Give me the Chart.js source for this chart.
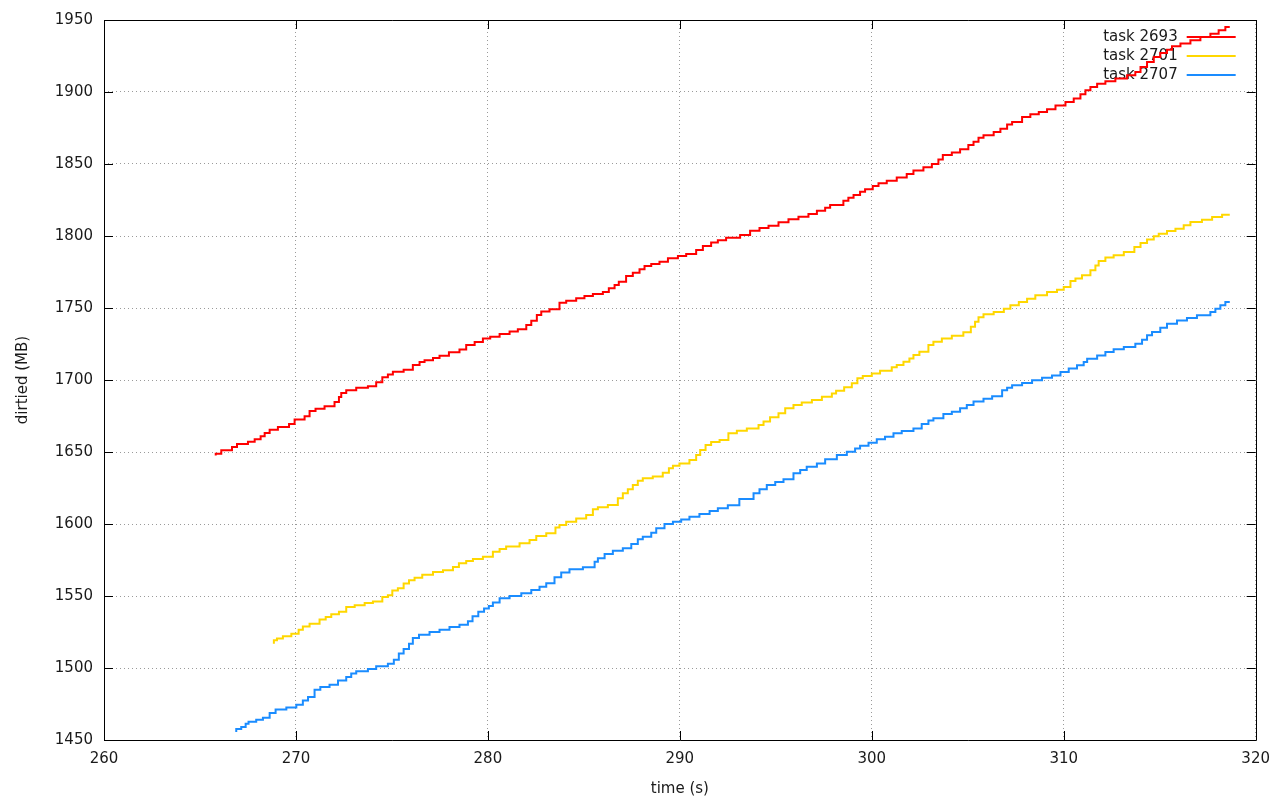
<!DOCTYPE html>
<html>
<head>
<meta charset="utf-8">
<script src="https://cdn.jsdelivr.net/npm/chart.js@4/dist/chart.umd.min.js"></script>
<style>
  html, body { margin: 0; padding: 0; background: #ffffff; }
  #wrap { width: 1280px; height: 800px; }
</style>
</head>
<body>
<div id="wrap"><canvas id="c" width="1280" height="800"></canvas></div>
<script>
// ---- data ----
const seriesLabels = ['task 2693', 'task 2701', 'task 2707'];
const seriesColors = ['#ff0000', '#ffd700', '#1a8cff'];

const task2693Time = [265.82,266.11,266.67,266.93,267.5,267.85,268.16,268.37,268.63,269.06,269.64,269.93,270.45,270.71,271.02,271.49,272.01,272.24,272.36,272.62,273.14,273.75,274.18,274.5,274.79,275.05,275.61,276.09,276.44,276.7,277.14,277.48,277.97,278.52,278.87,279.31,279.74,280.12,280.61,281.13,281.56,282.0,282.26,282.55,282.78,283.21,283.73,284.08,284.6,285.03,285.47,285.99,286.3,286.6,286.82,287.2,287.55,287.9,288.16,288.51,288.94,289.38,289.9,290.33,290.85,291.2,291.63,291.98,292.41,293.14,293.66,294.15,294.62,295.14,295.66,296.18,296.7,297.14,297.57,297.83,298.52,298.78,299.05,299.39,299.65,300.05,300.35,300.78,301.3,301.82,302.17,302.69,303.13,303.47,303.7,304.17,304.6,305.03,305.3,305.56,305.82,306.35,306.7,307.05,307.31,307.83,308.26,308.7,309.13,309.57,310.09,310.52,310.87,311.13,311.39,311.74,312.17,312.69,313.3,313.73,314.0,314.34,314.69,315.03,315.38,315.64,316.08,316.6,317.12,317.64,318.07,318.42,318.65];
const task2693Dirtied = [1647.5,1648.8,1651.2,1653.5,1655.6,1657.2,1658.8,1660.9,1663.2,1665.5,1667.4,1669.4,1672.5,1674.8,1678.5,1680.1,1681.7,1684.7,1688.2,1691,1692.8,1694.7,1695.6,1698.4,1701.9,1703.9,1705.8,1707.2,1710.4,1712.5,1713.7,1715.3,1716.9,1719.2,1721.2,1724.3,1726.4,1728.9,1730.1,1731.9,1733.6,1735.2,1738.2,1741.2,1745.1,1747.5,1749.1,1753.7,1755.1,1756.7,1758.3,1759.7,1761.1,1763.7,1766,1768.3,1772.2,1774.5,1776.9,1779.2,1780.6,1782.2,1784.5,1786.1,1787.5,1790.3,1793.1,1795.4,1797.0,1798.8,1800.7,1803.7,1805.6,1807.2,1809.5,1811.6,1813.4,1815.3,1817.6,1819.7,1821.5,1824.5,1826.6,1828.5,1830.8,1832.4,1834.7,1836.6,1838.4,1840.7,1843.1,1845.4,1847.7,1850,1853.2,1856.3,1857.9,1860.2,1863.2,1865.5,1868.3,1869.9,1872.2,1874.5,1877.5,1879.2,1882.6,1884.5,1886.1,1888,1890.7,1893.1,1895.4,1898.4,1901.2,1903.5,1905.8,1907.4,1909.3,1911.6,1913.9,1917.4,1920.8,1924.3,1927.1,1929.4,1931.7,1933.6,1935.9,1938.2,1940.5,1942.8,1945.1];

const task2701Time = [268.85,269.01,269.32,269.76,270.14,270.36,270.71,271.23,271.55,271.84,272.24,272.62,273.06,273.58,274.01,274.5,274.79,275.02,275.31,275.61,275.89,276.18,276.58,277.14,277.66,278.18,278.49,278.87,279.22,279.74,280.26,280.61,280.95,281.65,282.17,282.52,283.04,283.52,283.73,284.08,284.6,285.12,285.47,285.73,286.25,286.77,287.03,287.29,287.55,287.81,288.07,288.59,289.11,289.43,289.64,289.98,290.5,290.85,291.06,291.34,291.63,292.07,292.53,292.97,293.49,294.1,294.36,294.7,295.14,295.49,295.92,296.35,296.88,297.4,297.92,298.14,298.56,298.96,299.25,299.53,300.0,300.43,301.04,301.3,301.65,301.96,302.17,302.48,302.95,303.21,303.65,304.17,304.77,305.16,305.38,305.56,305.82,306.35,306.88,307.22,307.66,308.09,308.52,309.13,309.65,310.0,310.35,310.61,310.95,311.39,311.65,311.82,312.17,312.6,313.13,313.68,314.0,314.34,314.69,314.95,315.38,315.82,316.25,316.6,317.2,317.73,318.25,318.65];
const task2701Dirtied = [1516.9,1519.2,1520.4,1522,1523.8,1526.6,1528.9,1530.8,1533.6,1535.4,1537.3,1539.1,1542.4,1543.5,1545.1,1546.1,1549.3,1550.5,1553.9,1555.3,1558.6,1560.9,1562.7,1564.8,1566.7,1567.8,1570.1,1572.8,1574.3,1575.7,1577.3,1580.8,1582.6,1584.3,1586.6,1588.9,1591.7,1593.5,1597.5,1599.3,1601.6,1603.9,1606.3,1610.2,1611.6,1613.2,1617.8,1621.3,1624.1,1627.1,1630.1,1631.7,1632.9,1635.6,1638.7,1640.5,1642.1,1644.4,1647.9,1651.4,1654.9,1657.0,1658.3,1663,1664.8,1666.4,1668.8,1671.1,1674.1,1676.9,1680.3,1682.6,1684.3,1686.1,1688.4,1690.7,1692.6,1694.9,1697.7,1701.2,1702.8,1704.6,1706.5,1708.8,1710.4,1712.7,1715,1717.4,1719.7,1724.3,1726.6,1728.9,1730.8,1733.1,1737,1740.5,1743.5,1745.6,1747.2,1749.5,1751.9,1754.2,1756.5,1758.8,1761.1,1762.7,1764.6,1768.8,1770.4,1772.7,1776.2,1779.6,1782.6,1785,1786.6,1788.9,1792.4,1795.1,1797.5,1799.8,1801.6,1803.5,1805.1,1807.4,1809.7,1811.3,1813.2,1814.8];

const task2707Time = [266.89,267.15,267.38,267.53,267.93,268.28,268.63,268.94,269.5,270.02,270.36,270.63,270.97,271.27,271.75,272.19,272.62,272.88,273.14,273.75,274.18,274.79,275.1,275.36,275.61,275.89,276.09,276.41,276.96,277.48,278.0,278.52,278.96,279.2,279.5,279.8,280.05,280.26,280.61,281.13,281.74,282.26,282.69,283.04,283.47,283.82,284.25,284.95,285.56,285.73,286.08,286.51,287.03,287.47,287.81,288.07,288.51,288.77,289.2,289.64,290.07,290.5,291.02,291.55,291.98,292.5,293.1,293.84,294.15,294.53,294.97,295.4,295.92,296.27,296.61,297.14,297.57,298.18,298.7,299.13,299.39,299.83,300.26,300.69,301.13,301.56,302.17,302.6,302.95,303.21,303.73,304.17,304.6,304.95,305.3,305.82,306.27,306.79,307.05,307.31,307.83,308.35,308.87,309.39,309.83,310.26,310.69,311.04,311.22,311.74,312.17,312.6,313.13,313.73,314.08,314.34,314.6,315.03,315.38,315.9,316.42,316.94,317.64,317.9,318.16,318.42,318.65];
const task2707Dirtied = [1455.5,1457.6,1459,1461.3,1462.7,1464.1,1465.5,1468.8,1471.1,1472.5,1474.5,1477.5,1479.9,1484.9,1486.8,1488.4,1491.4,1493.8,1496.1,1497.7,1499.3,1501.2,1503,1505.8,1510,1513.2,1516.9,1520.8,1523.1,1525,1526.6,1528.5,1530.1,1532.5,1536,1539,1541.4,1543.1,1545.4,1548.4,1550,1551.9,1554.2,1556.5,1558.8,1563,1566.4,1568.5,1569.9,1573.8,1576.2,1579.2,1581.5,1583.1,1586.1,1589.4,1591.2,1594,1597,1600,1601.6,1603.2,1605.1,1606.9,1609,1610.9,1613,1617.4,1621.3,1624.1,1627.1,1629.2,1631,1635.2,1637.5,1639.8,1642.1,1644.9,1647.9,1650.2,1652.5,1654.4,1656.5,1658.8,1660.6,1663,1664.6,1666.4,1669.4,1671.8,1673.4,1676.4,1678,1680.3,1682.6,1685,1687,1688.7,1692.8,1694.7,1696.3,1697.9,1699.8,1701.6,1703.2,1705.6,1707.9,1710.2,1712.5,1714.8,1717.1,1719.4,1721.3,1722.9,1725.2,1728,1731,1733.3,1736.3,1739.1,1741.4,1743.1,1744.9,1747.2,1749.5,1751.9,1754.2];

const xTickValues = [260, 270, 280, 290, 300, 310, 320];
const yTickValues = [1450, 1500, 1550, 1600, 1650, 1700, 1750, 1800, 1850, 1900, 1950];
const xAxisTitle = 'time (s)';
const yAxisTitle = 'dirtied (MB)';

// ---- build datasets ----
function pts(xs, ys) { return xs.map((x, i) => ({ x: x, y: ys[i] })); }
const allTimes = [task2693Time, task2701Time, task2707Time];
const allValues = [task2693Dirtied, task2701Dirtied, task2707Dirtied];

const datasets = seriesLabels.map((lab, i) => ({
  label: lab,
  data: pts(allTimes[i], allValues[i]),
  borderColor: seriesColors[i],
  backgroundColor: seriesColors[i],
  borderWidth: 2,
  pointRadius: 0,
  stepped: 'after',
  fill: false,
  tension: 0
}));

const FONT = { family: "'DejaVu Sans', sans-serif", size: 15 };
const TEXT = '#1a1a1a';

// frame with inward ticks (gnuplot style) + in-plot legend
const framePlugin = {
  id: 'frame',
  beforeDatasetsDraw(chart) {
    const { ctx, chartArea: a, scales } = chart;
    ctx.save();
    ctx.strokeStyle = '#000';
    ctx.lineWidth = 1;
    ctx.beginPath();
    ctx.rect(Math.round(a.left) + 0.5, Math.round(a.top) + 0.5, Math.round(a.right - a.left), Math.round(a.bottom - a.top));
    ctx.stroke();
    const TL = 9;
    ctx.beginPath();
    xTickValues.forEach(v => {
      const px = Math.round(scales.x.getPixelForValue(v)) + 0.5;
      ctx.moveTo(px, a.bottom); ctx.lineTo(px, a.bottom - TL);
      ctx.moveTo(px, a.top); ctx.lineTo(px, a.top + TL);
    });
    yTickValues.forEach(v => {
      const py = Math.round(scales.y.getPixelForValue(v)) + 0.5;
      ctx.moveTo(a.left, py); ctx.lineTo(a.left + TL, py);
      ctx.moveTo(a.right, py); ctx.lineTo(a.right - TL, py);
    });
    ctx.stroke();

    // legend
    ctx.font = FONT.size + "px 'DejaVu Sans', sans-serif";
    ctx.textAlign = 'right';
    ctx.textBaseline = 'middle';
    chart.data.datasets.forEach((ds, i) => {
      const y = a.top + 17 + i * 19;
      ctx.fillStyle = TEXT;
      ctx.fillText(ds.label, a.right - 78, y);
      ctx.strokeStyle = ds.borderColor;
      ctx.lineWidth = 2;
      ctx.beginPath();
      ctx.moveTo(a.right - 69, y);
      ctx.lineTo(a.right - 20, y);
      ctx.stroke();
    });
    ctx.restore();
  }
};

new Chart(document.getElementById('c'), {
  type: 'line',
  data: { datasets: datasets },
  plugins: [framePlugin],
  options: {
    responsive: false,
    animation: false,
    devicePixelRatio: 1,
    layout: { padding: { top: 20, right: 24, bottom: 2, left: 0 } },
    plugins: { legend: { display: false }, tooltip: { enabled: false } },
    scales: {
      x: {
        type: 'linear',
        min: 260, max: 320,
        afterBuildTicks: s => { s.ticks = xTickValues.map(v => ({ value: v })); },
        ticks: { padding: 10, font: FONT, color: TEXT, maxRotation: 0, autoSkip: false, callback: v => String(v) },
        grid: { color: '#9a9a9a', lineWidth: 1, drawTicks: false },
        border: { display: false, dash: [1, 3] },
        title: { display: true, text: xAxisTitle, font: FONT, color: TEXT, padding: { top: 0, bottom: 0 } },
        afterFit: s => { s.height = 58; }
      },
      y: {
        type: 'linear',
        min: 1450, max: 1950,
        afterBuildTicks: s => { s.ticks = yTickValues.map(v => ({ value: v })); },
        ticks: { padding: 11, font: FONT, color: TEXT, autoSkip: false, callback: v => String(v) },
        grid: { color: '#9a9a9a', lineWidth: 1, drawTicks: false },
        border: { display: false, dash: [1, 3] },
        title: { display: true, text: yAxisTitle, font: FONT, color: TEXT, padding: { top: 14, bottom: 0 } },
        afterFit: s => { s.width = 104; }
      }
    }
  }
});
</script>
</body>
</html>
